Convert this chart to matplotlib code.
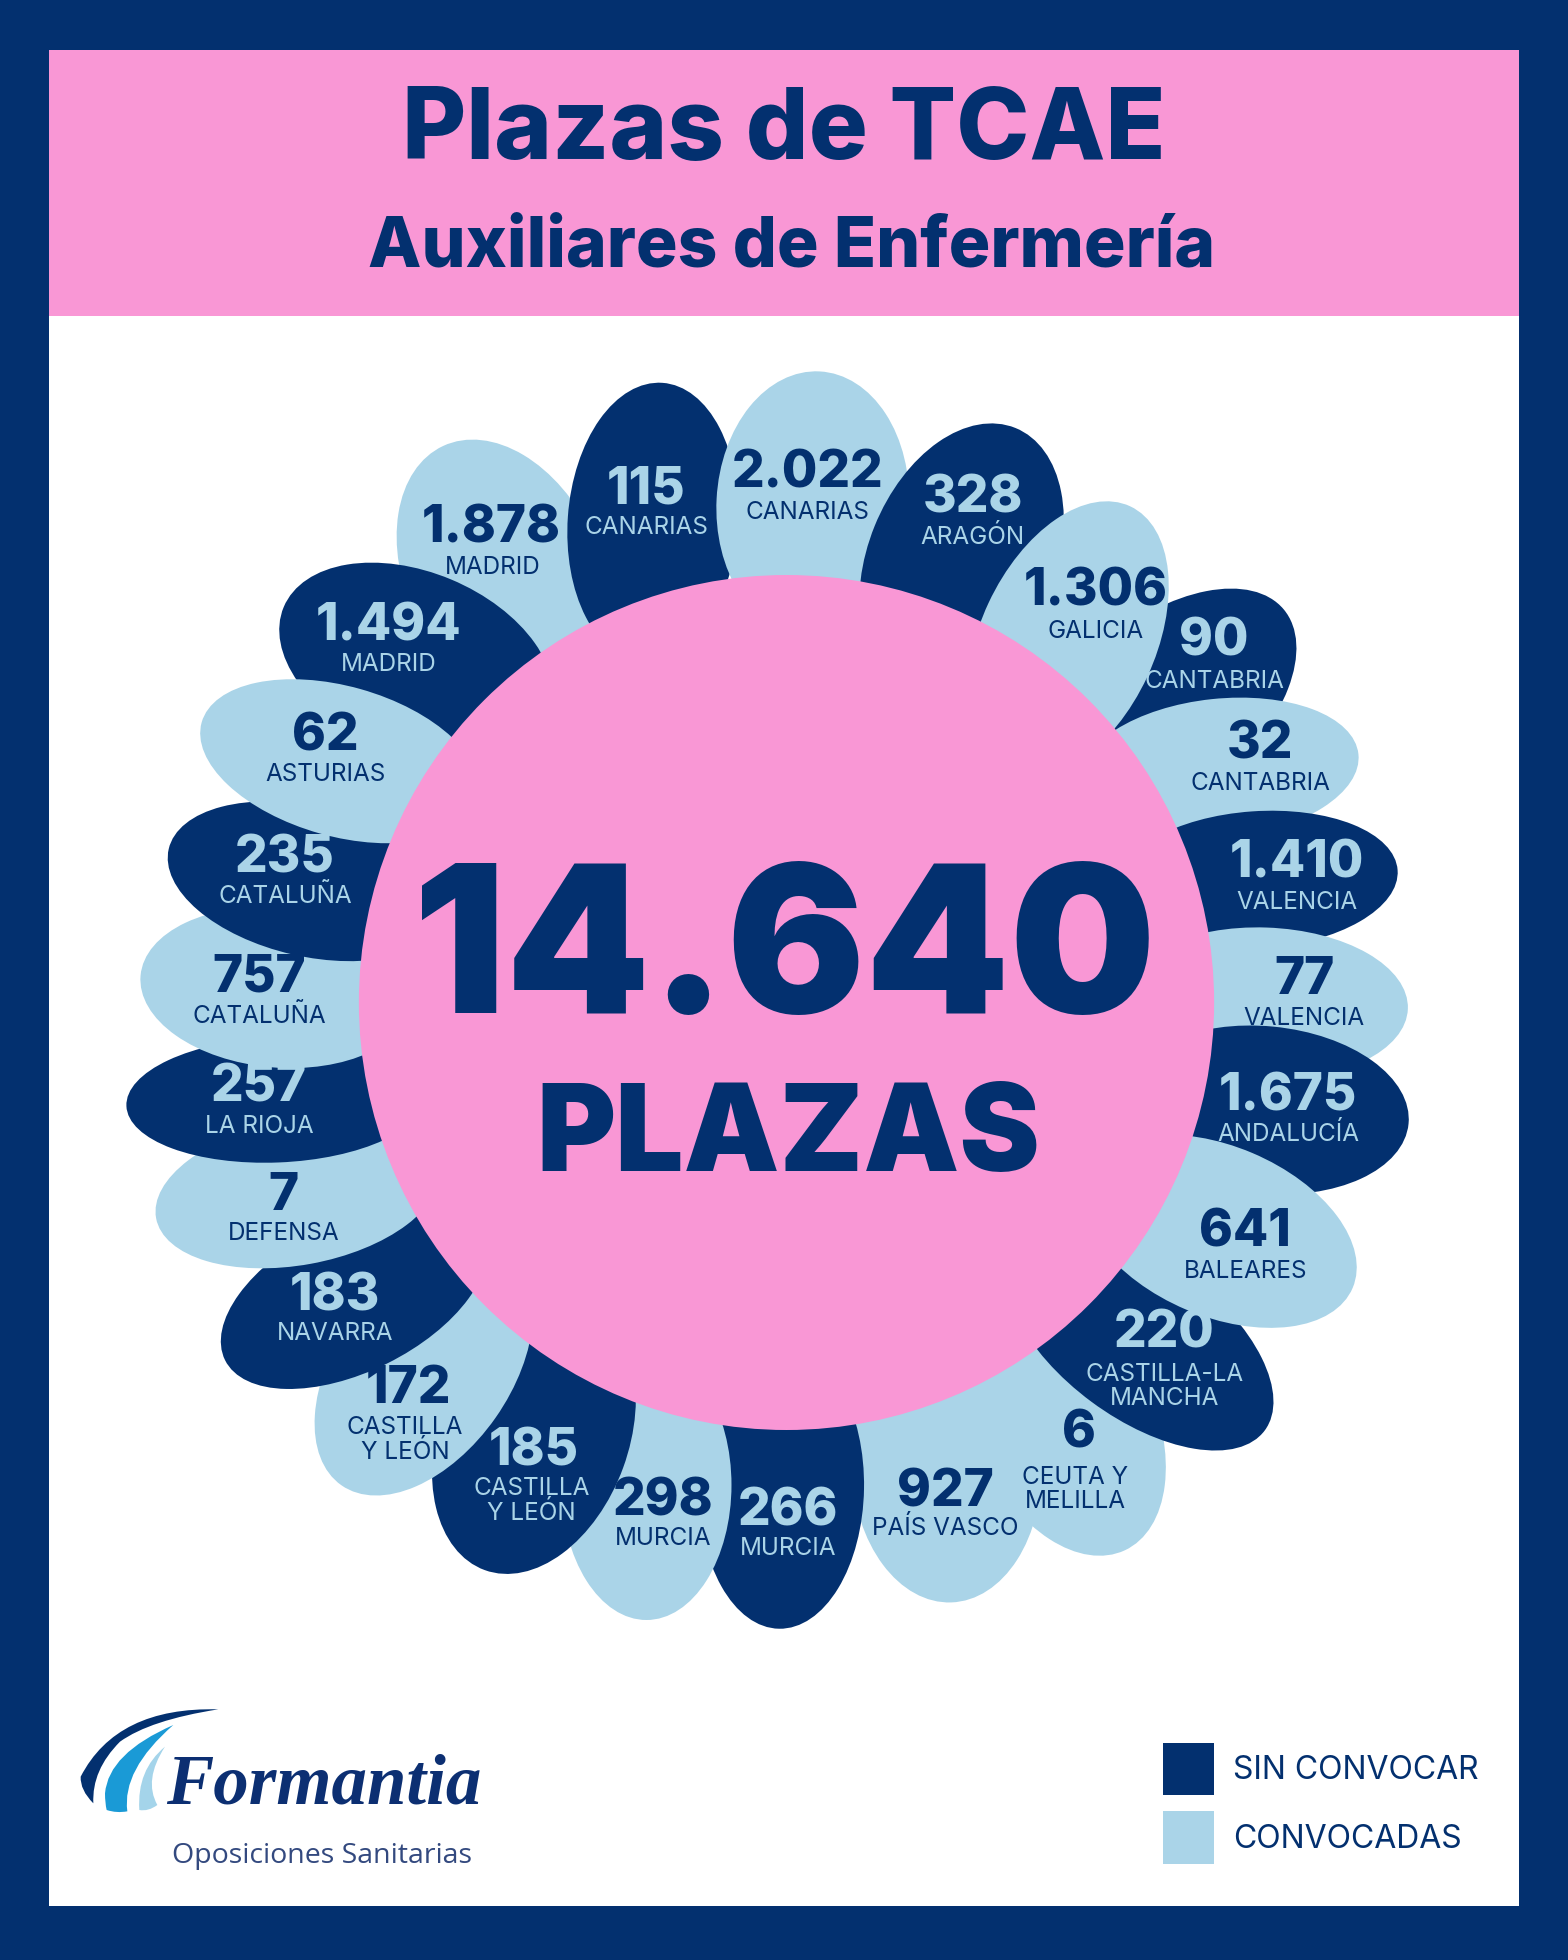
import numpy as np
import matplotlib
matplotlib.use("Agg")
import matplotlib.pyplot as plt
from matplotlib.patches import Ellipse, Rectangle, Circle, PathPatch
from matplotlib.path import Path

# ---------- data ----------
TITLE = "Plazas de TCAE"
SUBTITLE = "Auxiliares de Enfermería"
TOTAL = "14.640"
TOTAL_LABEL = "PLAZAS"
regions = ["CANARIAS", "ARAGÓN", "GALICIA", "CANTABRIA", "CANTABRIA", "VALENCIA", "VALENCIA",
           "ANDALUCÍA", "BALEARES", "CASTILLA-LA\nMANCHA", "CEUTA Y\nMELILLA", "PAÍS VASCO",
           "MURCIA", "MURCIA", "CASTILLA\nY LEÓN", "CASTILLA\nY LEÓN", "NAVARRA", "DEFENSA",
           "LA RIOJA", "CATALUÑA", "CATALUÑA", "ASTURIAS", "MADRID", "MADRID", "CANARIAS"]
values = [2022, 328, 1306, 90, 32, 1410, 77, 1675, 641, 220, 6, 927, 266, 298, 185, 172, 183,
          7, 257, 757, 235, 62, 1494, 1878, 115]
status = ["C", "S", "C", "S", "C", "S", "C", "S", "C", "S", "C", "C", "S", "C", "S", "C", "S",
          "C", "S", "C", "S", "C", "S", "C", "S"]
legend_labels = {"S": "SIN CONVOCAR", "C": "CONVOCADAS"}

# ---------- layout (reference is read on a 1254 x 1568 grid) ----------
petal_cx = [650, 769, 854, 927, 975, 1005, 1011, 1012, 975, 911, 851, 757, 625, 517, 427, 339,
            283, 238, 221, 222, 247, 272, 333, 403, 522]
petal_cy = [403, 449, 512, 571, 615, 704, 803, 888, 985, 1070, 1136, 1172, 1190, 1188, 1148, 1094,
            1037, 954, 880, 790, 705, 609, 530, 461, 418]
petal_a = [106, 115, 118, 130, 112, 113, 115, 115, 116, 125, 115, 110, 113, 108, 115, 115,
           115, 115, 120, 110, 115, 115, 115, 115, 112]
petal_b = [77, 75, 70, 72, 56, 55, 61, 67, 68, 64, 72, 76, 66, 68, 76, 70,
           60, 58, 50, 64, 60, 60, 72, 78, 68]
petal_tilt = [3, 22, 25, 50, 84, 86, 92, 95.5, 113, 126.5, 155, 178, 181, 180, 200, 215,
              243.6, 259.7, 267.7, 275, 283, 285.7, 292.7, 335, 4]
petal_z = [3, 4, 5, 1, 2, 3, 4, 5, 6, 5, 3, 3, 4, 5, 6, 7, 8, 9, 10, 11, 12, 13, 10, 1, 2]
num_x = [646, 778, 876, 971, 1008, 1037, 1043, 1030, 996, 931, 863, 756, 630, 530, 427, 327,
         268, 227, 207, 207, 228, 260, 311, 393, 517]
lab_x = [646, 778, 876, 971, 1008, 1037, 1043, 1030, 996, 931, 860, 756, 630, 530, 425, 324,
         268, 227, 207, 207, 228, 260, 311, 394, 517]
num_y = [390, 410, 484, 524, 607, 702, 795, 888, 997, 1078, 1158, 1205, 1220, 1212, 1172, 1122,
         1048, 968, 881, 793, 698, 600, 512, 434, 403]
lab_y = [415, 435, 510, 550, 632, 727, 820, 913, 1022, 1124, 1206, 1228, 1244, 1236, 1216, 1167,
         1072, 992, 906, 818, 722, 625, 537, 459, 427]

NAVY, LIGHT, PINK = "#03306f", "#aad4e8", "#f997d5"
CX, CY, CR = 629, 802, 342
HEAVY = "Inter"
PLAIN = "Inter"

fig = plt.figure(figsize=(15.68, 19.6), dpi=100, facecolor=NAVY)
ax = fig.add_axes([0, 0, 1, 1])
ax.set_xlim(0, 1254)
ax.set_ylim(1568, 0)
ax.axis("off")

ax.add_patch(Rectangle((39, 253), 1176, 1272, fc="white", ec="none", zorder=0))
ax.add_patch(Rectangle((39, 40), 1176, 213, fc=PINK, ec="none", zorder=0))
ax.text(627, 127, TITLE, ha="center", va="baseline", color=NAVY, family=HEAVY, weight=800, fontsize=71, zorder=30)
ax.text(633, 213, SUBTITLE, ha="center", va="baseline", color=NAVY, family=HEAVY, weight=800, fontsize=50, zorder=30)

for x0, y0, a, b, tilt, z, st in zip(petal_cx, petal_cy, petal_a, petal_b, petal_tilt, petal_z, status):
    ax.add_patch(Ellipse((x0, y0), 2 * a, 2 * b, angle=tilt - 90,
                         fc=NAVY if st == "S" else LIGHT, ec="none", zorder=z + 1))

ax.add_patch(Circle((CX, CY), CR, fc=PINK, ec="none", zorder=20))
ax.text(627, 810, TOTAL, ha="center", va="baseline", color=NAVY, family=HEAVY, weight="black", fontsize=148, zorder=30)
ax.text(630, 937, TOTAL_LABEL, ha="center", va="baseline", color=NAVY, family=HEAVY, weight="black", fontsize=87, zorder=30)

for v, name, st, nx, lx, ny, ly in zip(values, regions, status, num_x, lab_x, num_y, lab_y):
    col = LIGHT if st == "S" else NAVY
    txt = f"{v:,}".replace(",", ".")
    ax.text(nx, ny, txt, ha="center", va="baseline", color=col, family=HEAVY, weight=800, fontsize=37, zorder=30)
    ax.text(lx, ly, name, ha="center", va="baseline", color=col, family=PLAIN, fontsize=17.5,
            linespacing=1.05, zorder=30, multialignment="center")

# legend
for key, y0 in zip(["S", "C"], [1394, 1449]):
    ax.add_patch(Rectangle((930, y0), 41, 42, fc=NAVY if key == "S" else LIGHT, ec="none", zorder=5))
    ax.text(986, y0 + 29, legend_labels[key], ha="left", va="baseline", color=NAVY, family=PLAIN, fontsize=23)

# logo (drawn on its own little axes, in crop pixels)
lg = fig.add_axes([50 / 1568, 1 - (1670 + 230) / 1960, 480 / 1568, 230 / 1960])
lg.set_xlim(0, 1440)
lg.set_ylim(690, 0)
lg.axis("off")
lg.patch.set_alpha(0)

def swoosh(verts, color):
    codes = [Path.MOVETO] + [Path.CURVE3] * (len(verts) - 2) + [Path.CLOSEPOLY]
    lg.add_patch(PathPatch(Path(verts, codes), fc=color, ec="none"))

swoosh([(505, 118), (200, 110), (92, 320), (90, 360), (130, 400), (125, 300), (210, 215), (300, 150), (505, 118), (505, 118)], NAVY)
swoosh([(370, 165), (175, 250), (165, 370), (165, 400), (170, 420), (200, 430), (232, 424), (215, 300), (370, 165), (370, 165)], "#1a9ad6")
swoosh([(345, 230), (260, 300), (268, 420), (295, 425), (322, 405), (280, 330), (345, 230), (345, 230)], "#a4d4ea")
lg.text(822, 400, "Formantia", ha="center", va="baseline", color="#0c2f72", family="Liberation Serif",
        style="italic", weight="bold", fontsize=51)
lg.text(815, 578, "Oposiciones Sanitarias", ha="center", va="baseline", color="#33497f", family="Open Sans", fontsize=20.5)

fig.savefig("out.png", dpi=100, facecolor=NAVY)
